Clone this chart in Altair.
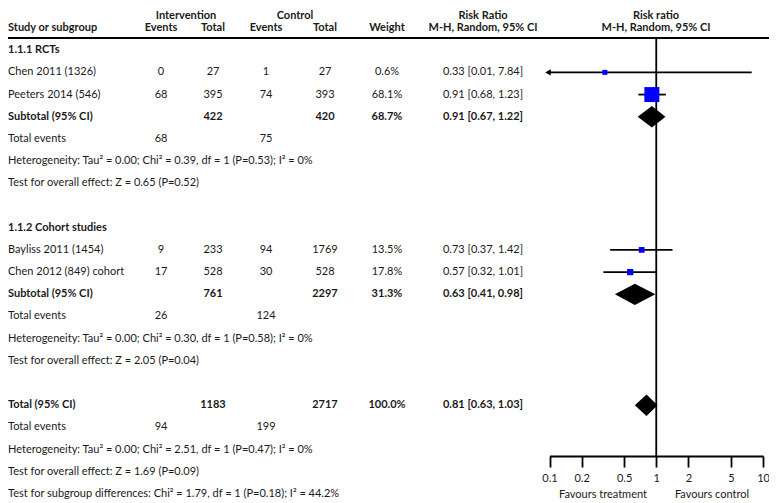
import altair as alt
import pandas as pd

FONT = "Lato"
TXT = "#1a1a1a"
FS = 11

# ---------------- data ----------------
group_names = ["1.1.1 RCTs", "1.1.2 Cohort studies"]
study_names = ["Chen 2011 (1326)", "Peeters 2014 (546)", "Bayliss 2011 (1454)", "Chen 2012 (849) cohort"]
study_group = [0, 0, 1, 1]
int_events = [0, 68, 9, 17]
int_total = [27, 395, 233, 528]
ctl_events = [1, 74, 94, 30]
ctl_total = [27, 393, 1769, 528]
weights = [0.6, 68.1, 13.5, 17.8]
rr = [0.33, 0.91, 0.73, 0.57]
rr_lo = [0.01, 0.68, 0.37, 0.32]
rr_hi = [7.84, 1.23, 1.42, 1.01]

sub_int_total = [422, 761]
sub_ctl_total = [420, 2297]
sub_weight = [68.7, 31.3]
sub_rr = [0.91, 0.63]
sub_lo = [0.67, 0.41]
sub_hi = [1.22, 0.98]
sub_int_events = [68, 26]
sub_ctl_events = [75, 124]
sub_het = ["Heterogeneity: Tau² = 0.00; Chi² = 0.39, df = 1 (P=0.53); I² = 0%",
           "Heterogeneity: Tau² = 0.00; Chi² = 0.30, df = 1 (P=0.58); I² = 0%"]
sub_test = ["Test for overall effect: Z = 0.65 (P=0.52)",
            "Test for overall effect: Z = 2.05 (P=0.04)"]

tot_int_total = 1183
tot_ctl_total = 2717
tot_weight = 100.0
tot_rr, tot_lo, tot_hi = 0.81, 0.63, 1.03
tot_int_events = 94
tot_ctl_events = 199
tot_het = "Heterogeneity: Tau² = 0.00; Chi² = 2.51, df = 1 (P=0.47); I² = 0%"
tot_test = "Test for overall effect: Z = 1.69 (P=0.09)"
subgroup_test = "Test for subgroup differences: Chi² = 1.79, df = 1 (P=0.18); I² = 44.2%"

axis_ticks = [0.1, 0.2, 0.5, 1, 2, 5, 10]
fav_left = "Favours treatment"
fav_right = "Favours control"

# ---------------- build table layout ----------------
table = []
points = []
diamonds = []


def ci_text(e, l, h):
    return f"{e:.2f} [{l:.2f}, {h:.2f}]"


def add(row, label="", bold=False, ie="", it="", ce="", ct="", w="", ci=""):
    table.append(dict(row=row, label=label, bold=bold, ie=str(ie), it=str(it),
                      ce=str(ce), ct=str(ct), w=w, ci=ci))


def add_diamond(name, row, e, l, h):
    diamonds.append(dict(grp=name, x=l, y1=row, y2=row))
    diamonds.append(dict(grp=name, x=e, y1=row - 0.48, y2=row + 0.48))
    diamonds.append(dict(grp=name, x=h, y1=row, y2=row))


# header row
table.append(dict(row=0, label="Study or subgroup", bold=True, ie="Events", it="Total",
                  ce="Events", ct="Total", w="Weight", ci="M-H, Random, 95% CI"))

r = 1
for g in range(2):
    add(r, group_names[g], bold=True)
    r += 1
    for i, name in enumerate(study_names):
        if study_group[i] != g:
            continue
        add(r, name, False, int_events[i], int_total[i], ctl_events[i], ctl_total[i],
            f"{weights[i]:.1f}%", ci_text(rr[i], rr_lo[i], rr_hi[i]))
        points.append(dict(row=r, est=rr[i], lo=rr_lo[i], hi=rr_hi[i], weight=weights[i]))
        r += 1
    add(r, "Subtotal (95% CI)", True, "", sub_int_total[g], "", sub_ctl_total[g],
        f"{sub_weight[g]:.1f}%", ci_text(sub_rr[g], sub_lo[g], sub_hi[g]))
    add_diamond(f"g{g}", r, sub_rr[g], sub_lo[g], sub_hi[g])
    r += 1
    add(r, "Total events", False, sub_int_events[g], "", sub_ctl_events[g])
    r += 1
    add(r, sub_het[g])
    r += 1
    add(r, sub_test[g])
    r += 1
    r += 1

add(r, "Total (95% CI)", True, "", tot_int_total, "", tot_ctl_total,
    f"{tot_weight:.1f}%", ci_text(tot_rr, tot_lo, tot_hi))
add_diamond("total", r, tot_rr, tot_lo, tot_hi)
r += 1
add(r, "Total events", False, tot_int_events, "", tot_ctl_events)
r += 1
add(r, tot_het)
r += 1
add(r, tot_test)
r += 1
add(r, subgroup_test)
last_row = r

table_df = pd.DataFrame(table)
points_df = pd.DataFrame(points)
diam_df = pd.DataFrame(diamonds)
top_df = pd.DataFrame([
    dict(row=-0.54, text="Intervention", col="int"),
    dict(row=-0.54, text="Control", col="ctl"),
    dict(row=-0.54, text="Risk Ratio", col="rr"),
    dict(row=-0.54, text="Risk ratio", col="plot"),
])

# ---------------- scales ----------------
W, H = 761, 495
YS = alt.Scale(domain=[0, last_row], range=[20, 486], zero=False, nice=False)
XS = alt.Scale(type="log", domain=[0.1, 10], range=[541.5, 755], nice=False)
AXIS_Y = 448
AX = alt.Axis(orient="bottom", offset=AXIS_Y - H, values=axis_ticks, format="~g",
              grid=False, title=None, domainColor="black", domainWidth=1.8,
              tickColor="black", tickWidth=1.8, tickSize=11, labelFont=FONT,
              labelFontSize=FS, labelColor=TXT, labelPadding=5, labelFlush=False)
Y = alt.Y("row:Q", scale=YS, axis=None)

layers = []

# table text columns
cols = [("label", 0, "left"), ("ie", 153, "center"), ("it", 205, "center"),
        ("ce", 258, "center"), ("ct", 317, "center"), ("w", 379, "center"),
        ("ci", 475, "center")]
for field, xpos, align in cols:
    for bold in (False, True):
        layers.append(
            alt.Chart(table_df).transform_filter(alt.datum.bold == bold).mark_text(
                align=align, baseline="middle", font=FONT, fontSize=FS,
                fontWeight="bold" if bold else "normal", color=TXT
            ).encode(x=alt.value(xpos), y=Y, text=f"{field}:N")
        )
# plot-column header on row 0
layers.append(
    alt.Chart(table_df).transform_filter(alt.datum.row == 0).mark_text(
        align="center", baseline="middle", font=FONT, fontSize=FS, fontWeight="bold", color=TXT
    ).encode(x=alt.value(648), y=Y, text="ci:N")
)
# top headers
for col, xpos in [("int", 178), ("ctl", 287), ("rr", 475), ("plot", 648)]:
    layers.append(
        alt.Chart(top_df).transform_filter(alt.datum.col == col).mark_text(
            align="center", baseline="middle", font=FONT, fontSize=FS, fontWeight="bold", color=TXT
        ).encode(x=alt.value(xpos), y=Y, text="text:N")
    )

# header separator line
layers.append(
    alt.Chart(pd.DataFrame({"row": [0.45]})).mark_rule(color="black", strokeWidth=1.8).encode(
        x=alt.value(0), x2=alt.value(W), y=Y)
)

# vertical line of no effect
layers.append(
    alt.Chart(pd.DataFrame({"v": [1]})).mark_rule(color="black", strokeWidth=1.8).encode(
        x=alt.X("v:Q", scale=XS, axis=AX), y=alt.value(30), y2=alt.value(AXIS_Y))
)

# CI lines (clipped to axis range)
layers.append(
    alt.Chart(points_df).transform_calculate(
        lo_c="max(datum.lo, 0.1)", hi_c="min(datum.hi, 10)"
    ).mark_rule(color="black", strokeWidth=1.8).encode(
        x=alt.X("lo_c:Q", scale=XS, axis=AX), x2="hi_c:Q", y=Y)
)
# arrows for CIs beyond the axis
layers.append(
    alt.Chart(points_df).transform_filter("datum.lo < 0.1").transform_calculate(
        a="0.1").mark_point(shape="triangle-left", filled=True, size=42, color="black",
                            opacity=1, xOffset=-1.5).encode(
        x=alt.X("a:Q", scale=XS, axis=AX), y=Y)
)
# study squares
layers.append(
    alt.Chart(points_df).mark_square(color="#0000ff", opacity=1).encode(
        x=alt.X("est:Q", scale=XS, axis=AX), y=Y,
        size=alt.Size("weight:Q", scale=alt.Scale(type="pow", exponent=2, domain=[0, 68.1],
                                                  range=[25, 225]), legend=None))
)
# diamonds
layers.append(
    alt.Chart(diam_df).mark_area(color="black", opacity=1, interpolate="linear").encode(
        x=alt.X("x:Q", scale=XS, axis=AX),
        y=alt.Y("y1:Q", scale=YS, axis=None), y2="y2:Q", detail="grp:N")
)
# favours labels
for txt, xpos in [(fav_left, 595), (fav_right, 704)]:
    layers.append(
        alt.Chart(pd.DataFrame({"t": [txt], "row": [last_row]})).mark_text(
            align="center", baseline="middle", font=FONT, fontSize=FS, color=TXT, dy=1
        ).encode(x=alt.value(xpos), y=Y, text="t:N")
    )

chart = alt.layer(*layers).properties(
    width=W, height=H, padding=0, autosize=alt.AutoSizeParams(type="none")
).configure_view(stroke=None)

chart.save("out.html", embed_options={"renderer": "svg", "actions": False})
